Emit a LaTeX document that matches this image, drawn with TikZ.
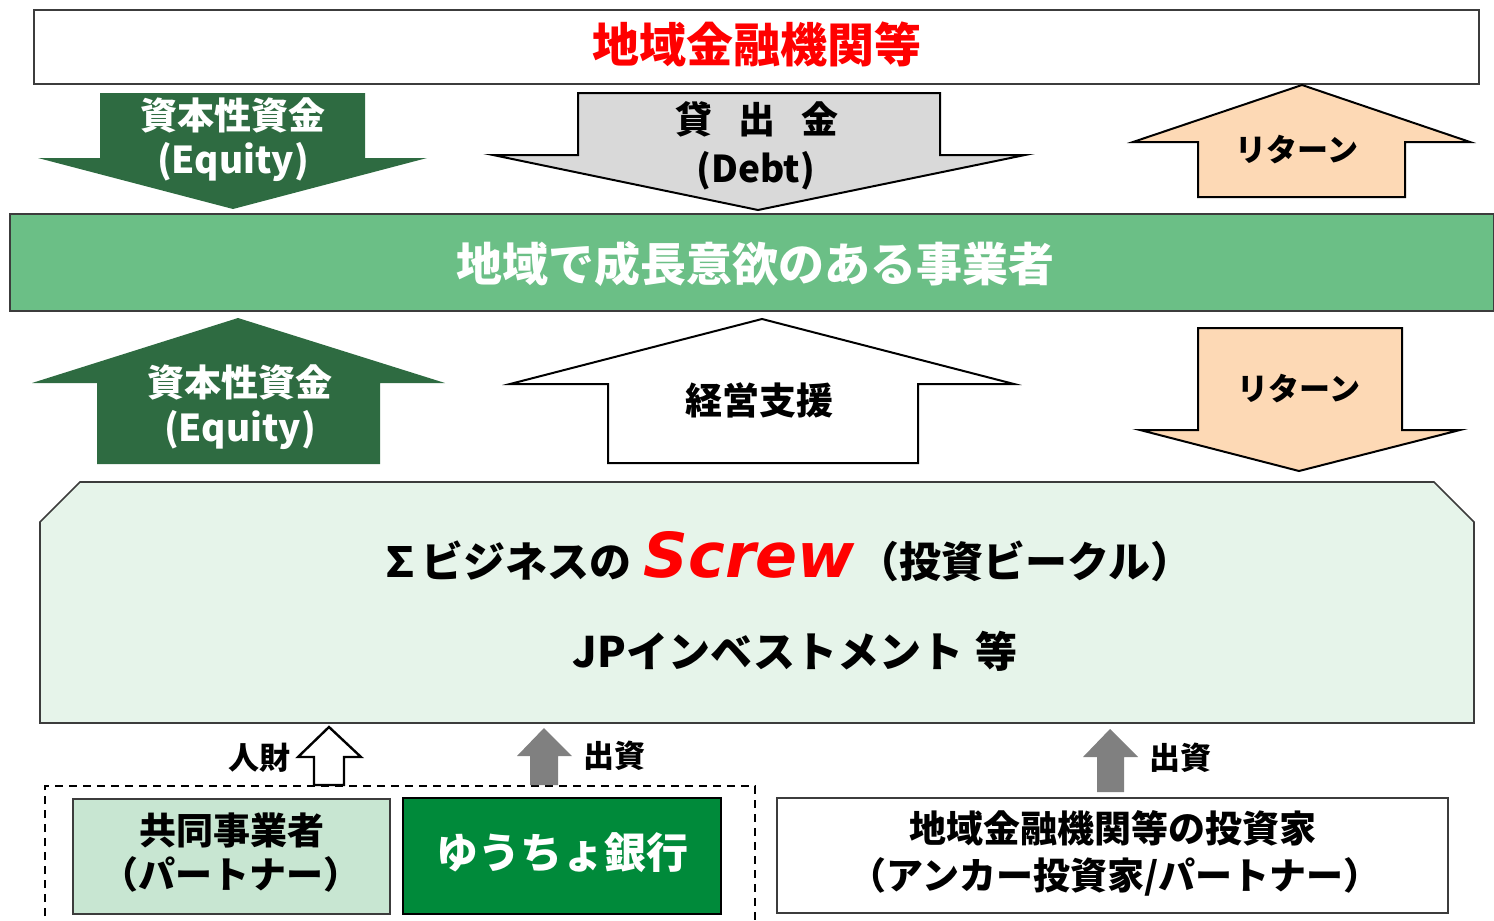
\documentclass[tikz,border=0pt]{standalone}
\usepackage{fontspec}
\setmainfont{Noto Sans CJK JP}
\newfontfamily\dvfont{DejaVu Sans}
\newcommand\myfs[1]{\fontsize{#1pt}{#1pt}\selectfont}
\definecolor{dkgreen}{RGB}{46,107,65}
\definecolor{bandgreen}{RGB}{107,191,134}
\definecolor{debtgray}{RGB}{217,217,217}
\definecolor{peach}{RGB}{253,217,181}
\definecolor{vehicle}{RGB}{230,244,234}
\definecolor{partner}{RGB}{200,230,210}
\definecolor{yucho}{RGB}{0,138,58}
\definecolor{midgray}{RGB}{128,128,128}
\definecolor{edgegray}{RGB}{60,60,60}
\begin{document}
\begin{tikzpicture}[x=0.5pt,y=-0.5pt,
  lbl/.style={inner sep=0pt, anchor=base, font=\bfseries\myfs{#1}},
  lbl/.default=18.5,
  boxnode/.style={draw=edgegray, line width=0.8pt, inner sep=0pt},
  outlined/.style={draw=black, line width=1pt, line join=miter},
]
\path[use as bounding box] (0,0) rectangle (1494,921);
\clip (0,0) rectangle (1494,921);

% top box
\node[boxnode, fill=white, minimum width=722.5pt, minimum height=37pt] (fin) at (756.5,47) {};
\node[lbl=23.5, text=red] (finT) at (757,62) {地域金融機関等};

% band
\node[boxnode, fill=bandgreen, minimum width=742pt, minimum height=48.5pt] (band) at (752,262.5) {};
\node[lbl=23, text=white] (bandT) at (755,281) {地域で成長意欲のある事業者};

% arrow: equity down
\fill[dkgreen] (100,93) -- (365,93) -- (365,158) -- (427,158) -- (233,209) -- (38,158) -- (100,158) -- cycle;
\node[lbl, text=white] (eq1a) at (233,129) {資本性資金};
\node[lbl, text=white] (eq1b) at (233,173) {(Equity)};

% arrow: debt down
\path[outlined, fill=debtgray] (578,93) -- (940,93) -- (940,155) -- (1025,155) -- (758,210) -- (493,155) -- (578,155) -- cycle;
\node[lbl] (debtA) at (757,133) {貸\hspace{13pt}出\hspace{13pt}金};
\node[lbl] (debtB) at (756,182) {(Debt)};

% arrow: return up
\path[outlined, fill=peach] (1198,197) -- (1198,142) -- (1133,142) -- (1302,85) -- (1470,142) -- (1405,142) -- (1405,197) -- cycle;
\node[lbl=15.5] (ret1) at (1297,161) {リターン};

% arrow: equity up
\fill[dkgreen] (97,464) -- (97,383) -- (32,383) -- (238,318) -- (445,383) -- (380,383) -- (380,464) -- cycle;
\node[lbl, text=white] (eq2a) at (240,396) {資本性資金};
\node[lbl, text=white] (eq2b) at (240,441) {(Equity)};

% arrow: management support
\path[outlined, fill=white] (608,463) -- (608,384) -- (510,384) -- (762,319) -- (1014,384) -- (918,384) -- (918,463) -- cycle;
\node[lbl] (mgmt) at (759,414) {経営支援};

% arrow: return down
\path[outlined, fill=peach] (1198,328) -- (1402,328) -- (1402,430) -- (1460,430) -- (1299,471) -- (1140,430) -- (1198,430) -- cycle;
\node[lbl=15.5] (ret2) at (1299,400) {リターン};

% vehicle box
\path[draw=edgegray, line width=0.8pt, fill=vehicle] (40,522) -- (80,482) -- (1434,482) -- (1474,522) -- (1474,723) -- (40,723) -- cycle;
\node[inner sep=0pt, anchor=base, font=\bfseries] (screw) at (786,577)
  {{\myfs{21}∑ビジネスの\hspace{6pt}}{\dvfont\bfseries\itshape\color{red}\myfs{31}Screw}{\myfs{21}\hspace{1pt}（投資ビークル）}};
\node[lbl=21] (jp) at (795,667) {JPインベストメント\hspace{6pt}等};

% dashed group
\draw[dashed, line width=0.8pt, dash pattern=on 4pt off 3pt] (45,930) -- (45,786) -- (755,786) -- (755,930);

% bottom boxes
\node[boxnode, fill=partner, minimum width=158.5pt, minimum height=57.5pt] (partnerbox) at (231.5,856.5) {};
\node[lbl] (pA) at (232,844) {共同事業者};
\node[lbl] (pB) at (231,888) {（パートナー）};

\node[draw=black, line width=1pt, inner sep=0pt, fill=yucho, minimum width=159pt, minimum height=58pt] (yuchobox) at (562,856) {};
\node[lbl=21, text=white] (yT) at (562,868) {ゆうちょ銀行};

\node[boxnode, fill=white, minimum width=335.5pt, minimum height=57.5pt] (invbox) at (1112.5,855.5) {};
\node[lbl] (iA) at (1113,842) {地域金融機関等の投資家};
\node[lbl] (iB) at (1115,889) {（アンカー投資家/パートナー）};

% small arrows
\path[draw=black, line width=1.2pt, fill=white] (314,785) -- (314,757) -- (298,757) -- (329,727) -- (361,757) -- (344,757) -- (344,785) -- cycle;
\node[lbl=15.5] (hr) at (259,769) {人財};
\fill[midgray] (530,785) -- (530,756) -- (517,756) -- (544,728) -- (572,756) -- (558,756) -- (558,785) -- cycle;
\node[lbl=15.5] (inv1) at (614,767) {出資};
\fill[midgray] (1097,792) -- (1097,757) -- (1083,757) -- (1110,729) -- (1138,757) -- (1124,757) -- (1124,792) -- cycle;
\node[lbl=15.5] (inv2) at (1180,769) {出資};
\end{tikzpicture}
\end{document}
